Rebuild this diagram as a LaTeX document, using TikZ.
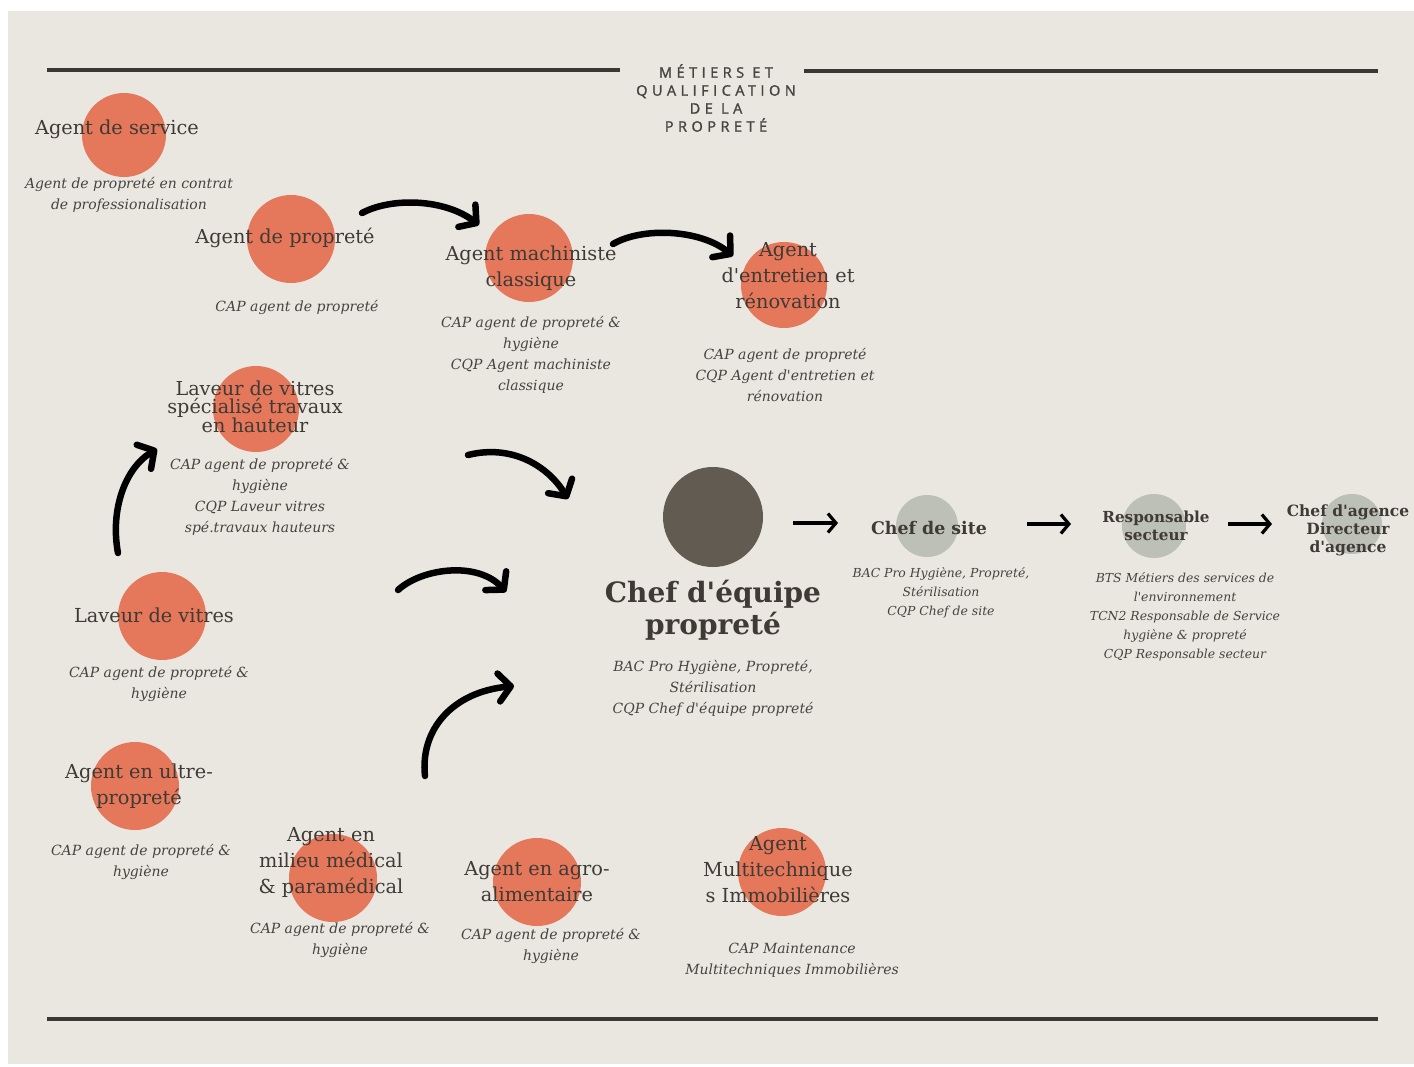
\documentclass[tikz,border=0pt]{standalone}
\usepackage{fontspec}
\setmainfont{DejaVu Serif}
\newfontfamily\titlefont[LetterSpace=31, FakeBold=1.5]{Open Sans}
\usetikzlibrary{arrows.meta}
\definecolor{bg}{HTML}{EAE7E1}
\definecolor{dotor}{HTML}{E5775A}
\definecolor{dotdark}{HTML}{625B52}
\definecolor{dotgrey}{HTML}{BDC0B6}
\definecolor{ink}{HTML}{3F3A35}
\definecolor{ink2}{HTML}{474340}
\definecolor{rulec}{HTML}{3B3834}
\newcommand\ap{\textquotesingle}
\tikzset{
  dot/.style={circle, fill=dotor, inner sep=0pt, minimum size=88pt},
  darkdot/.style={circle, fill=dotdark, inner sep=0pt, minimum size=100pt},
  greydot/.style={circle, fill=dotgrey, inner sep=0pt, minimum size=62pt},
  lbl/.style={text=ink, font=\fontsize{19.3}{26}\selectfont, align=center, inner sep=0pt},
  tightlbl/.style={lbl, font=\fontsize{19.2}{18}\selectfont},
  biglbl/.style={text=ink, font=\fontsize{28}{32}\selectfont\bfseries, align=center, inner sep=0pt},
  boldlbl/.style={text=ink, font=\fontsize{15.5}{18}\selectfont\bfseries, align=center, inner sep=0pt},
  sub/.style={text=ink2, font=\fontsize{14}{21}\selectfont\itshape, align=center, inner sep=0pt},
  smallsub/.style={text=ink2, font=\fontsize{12.4}{19}\selectfont\itshape, align=center, inner sep=0pt},
  rule/.style={draw=rulec, line width=4pt},
  brush/.style={draw=black, line width=6.5pt, line cap=round, line join=round,
    -{Straight Barb[length=12pt, width=28pt, line width=6.5pt, round]}},
  thin/.style={draw=black, line width=3.2pt,
    -{Straight Barb[length=8pt, width=19pt, line width=3.2pt]}},
  titlestyle/.style={text=ink2, font=\titlefont\fontsize{14.5}{18}\selectfont, align=center, inner sep=0pt}
}
\begin{document}
\begin{tikzpicture}[x=1pt,y=-1pt]
\fill[white] (0,0) rectangle (1414,1066);
\useasboundingbox (0,0) rectangle (1414,1066);
\fill[bg] (8,11) rectangle (1414,1064);

% rules and title
\coordinate (r1a) at (47,70); \coordinate (r1b) at (620,70);
\coordinate (r2a) at (804,71); \coordinate (r2b) at (1378,71);
\coordinate (r3a) at (47,1019); \coordinate (r3b) at (1378,1019);
\draw[rule] (r1a) -- (r1b);
\draw[rule] (r2a) -- (r2b);
\draw[rule] (r3a) -- (r3b);
\node[titlestyle] (title) at (716,98) {MÉTIERS ET\\QUALIFICATION\\DE LA\\PROPRETÉ};

% circles
\node[dot, minimum size=84pt] (c1) at (124,135) {};
\node[dot] (c2) at (291,239) {};
\node[dot] (c3) at (529,258) {};
\node[dot, minimum size=86pt] (c4) at (784,285) {};
\node[dot, minimum size=86pt] (c5) at (256,409) {};
\node[dot] (c6) at (162,616) {};
\node[dot] (c7) at (135,786) {};
\node[dot] (c8) at (333,878) {};
\node[dot] (c9) at (537,882) {};
\node[dot] (c10) at (782,872) {};
\node[darkdot] (c11) at (713,517) {};
\node[greydot] (c12) at (927,526) {};
\node[greydot, minimum size=64pt] (c13) at (1154,526) {};
\node[greydot, minimum size=60pt] (c14) at (1352,524) {};

% labels
\node[lbl] (t1) at (117,129) {Agent de service};
\node[lbl] (t2) at (285,238) {Agent de propreté};
\node[lbl] (t3) at (531,268) {Agent machiniste\\classique};
\node[lbl] (t4) at (788,276) {Agent\\d\ap entretien et\\rénovation};
\node[tightlbl] (t5) at (255,407) {Laveur de vitres\\spécialisé travaux\\en hauteur};
\node[lbl] (t6) at (154,615) {Laveur de vitres};
\node[lbl] (t7) at (139,786) {Agent en ultre-\\propreté};
\node[lbl] (t8) at (331,862) {Agent en\\milieu médical\\\& paramédical};
\node[lbl] (t9) at (537,882) {Agent en agro-\\alimentaire};
\node[lbl] (t10) at (778,870) {Agent\\Multitechnique\\s Immobilières};
\node[biglbl] (t11) at (713,610) {Chef d\ap équipe\\propreté};
\node[boldlbl, font=\fontsize{17.4}{20}\selectfont\bfseries] (t12) at (929,528) {Chef de site};
\node[boldlbl, font=\fontsize{15.2}{18}\selectfont\bfseries] (t13) at (1156,526) {Responsable\\secteur};
\node[boldlbl] (t14) at (1348,530) {Chef d\ap agence\\Directeur\\d\ap agence};

% qualifications
\node[sub] (s1) at (129,195) {Agent de propreté en contrat\\de professionalisation};
\node[sub] (s2) at (297,307) {CAP agent de propreté};
\node[sub] (s3) at (531,354.5) {CAP agent de propreté \&\\hygiène\\CQP Agent machiniste\\classique};
\node[sub] (s4) at (785,375) {CAP agent de propreté\\CQP Agent d\ap entretien et\\rénovation};
\node[sub] (s5) at (260,497) {CAP agent de propreté \&\\hygiène\\CQP Laveur vitres\\spé.travaux hauteurs};
\node[sub] (s6) at (159,684) {CAP agent de propreté \&\\hygiène};
\node[sub] (s7) at (141,862) {CAP agent de propreté \&\\hygiène};
\node[sub] (s8) at (340,940) {CAP agent de propreté \&\\hygiène};
\node[sub] (s9) at (551,946) {CAP agent de propreté \&\\hygiène};
\node[sub] (s10) at (792,960) {CAP Maintenance\\Multitechniques Immobilières};
\node[sub] (s11) at (713,688) {BAC Pro Hygiène, Propreté,\\Stérilisation\\CQP Chef d\ap équipe propreté};
\node[smallsub] (s12) at (941,593) {BAC Pro Hygiène, Propreté,\\Stérilisation\\CQP Chef de site};
\node[smallsub] (s13) at (1185,616.5) {BTS Métiers des services de\\l\ap environnement\\TCN2 Responsable de Service\\hygiène \& propreté\\CQP Responsable secteur};

% curved arrows
\coordinate (a1s) at (362,213); \coordinate (a1e) at (479,225);
\coordinate (a2s) at (613,244); \coordinate (a2e) at (733,256);
\coordinate (a3s) at (118,553); \coordinate (a3e) at (157,449);
\coordinate (a4s) at (468,455); \coordinate (a4e) at (568,499);
\coordinate (a5s) at (398,590); \coordinate (a5e) at (506,592);
\coordinate (a6s) at (425,776); \coordinate (a6e) at (514,686);
\draw[brush] (a1s) .. controls (392,197) and (445,199) .. (a1e);
\draw[brush] (a2s) .. controls (642,227) and (700,229) .. (a2e);
\draw[brush] (a3s) .. controls (110,510) and (125,468) .. (a3e);
\draw[brush] (a4s) .. controls (512,444) and (548,466) .. (a4e);
\draw[brush] (a5s) .. controls (422,568) and (478,561) .. (a5e);
\draw[brush] (a6s) .. controls (420,730) and (452,692) .. (a6e);

% straight arrows
\coordinate (b1s) at (793,523); \coordinate (b1e) at (838,523);
\coordinate (b2s) at (1027,524); \coordinate (b2e) at (1071,524);
\coordinate (b3s) at (1228,524); \coordinate (b3e) at (1272,524);
\draw[thin] (b1s) -- (b1e);
\draw[thin] (b2s) -- (b2e);
\draw[thin] (b3s) -- (b3e);
\end{tikzpicture}
\end{document}
